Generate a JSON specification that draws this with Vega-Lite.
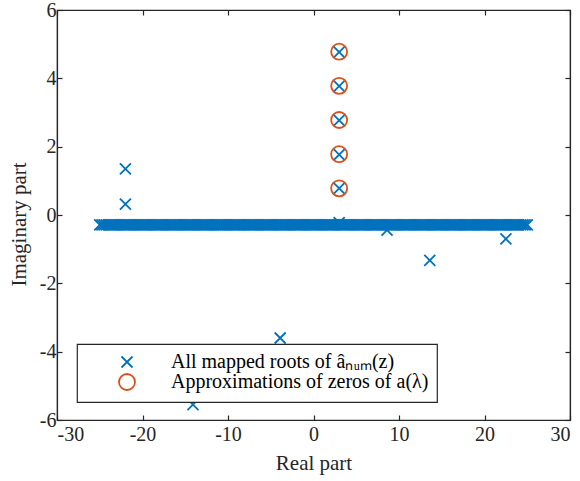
{
  "$schema": "https://vega.github.io/schema/vega-lite/v6.json",
  "width": 513,
  "height": 410,
  "autosize": {"type": "none"},
  "padding": {"left": 57, "top": 10, "right": 10, "bottom": 61},
  "background": "white",
  "config": {
    "font": "Liberation Serif",
    "view": {"stroke": "#262626", "strokeWidth": 1.2},
    "style": {
      "guide-label": {"font": "Liberation Serif", "fontSize": 20, "fill": "#262626"},
      "guide-title": {"font": "Liberation Serif", "fontSize": 21, "fill": "#262626", "fontWeight": "normal"}
    },
    "axis": {
      "grid": false,
      "domainColor": "#262626",
      "domainWidth": 1.2,
      "tickColor": "#262626",
      "tickWidth": 1.2,
      "tickSize": -5,
      "labelColor": "#262626",
      "titleColor": "#262626",
      "labelFont": "Liberation Serif",
      "titleFont": "Liberation Serif",
      "labelFontSize": 20,
      "titleFontSize": 21,
      "titleFontWeight": "normal",
      "labelPadding": 6
    },
    "legend": {
      "orient": "none",
      "legendX": 20,
      "legendY": 334,
      "strokeColor": "#262626",
      "strokeWidth": 1.2,
      "fillColor": "white",
      "padding": 8,
      "cornerRadius": 0,
      "labelFont": "Liberation Serif",
      "labelFontSize": 20,
      "labelColor": "#000000",
      "symbolStrokeWidth": 1.8,
      "symbolOffset": 32,
      "labelOffset": 34,
      "rowPadding": -2,
      "labelLimit": 400
    }
  },
  "data": {
    "values": [
      {"x":-25,"y":-0.29,"s":"roots"},{"x":-24.75,"y":-0.29,"s":"roots"},{"x":-24.5,"y":-0.29,"s":"roots"},{"x":-24.25,"y":-0.29,"s":"roots"},
      {"x":-24,"y":-0.29,"s":"roots"},{"x":-23.75,"y":-0.29,"s":"roots"},{"x":-23.5,"y":-0.29,"s":"roots"},{"x":-23.25,"y":-0.29,"s":"roots"},
      {"x":-23,"y":-0.29,"s":"roots"},{"x":-22.75,"y":-0.29,"s":"roots"},{"x":-22.5,"y":-0.29,"s":"roots"},{"x":-22.25,"y":-0.29,"s":"roots"},
      {"x":-22,"y":-0.29,"s":"roots"},{"x":-21.75,"y":-0.29,"s":"roots"},{"x":-21.5,"y":-0.29,"s":"roots"},{"x":-21.25,"y":-0.29,"s":"roots"},
      {"x":-21,"y":-0.29,"s":"roots"},{"x":-20.75,"y":-0.29,"s":"roots"},{"x":-20.5,"y":-0.29,"s":"roots"},{"x":-20.25,"y":-0.29,"s":"roots"},
      {"x":-20,"y":-0.29,"s":"roots"},{"x":-19.75,"y":-0.29,"s":"roots"},{"x":-19.5,"y":-0.29,"s":"roots"},{"x":-19.25,"y":-0.29,"s":"roots"},
      {"x":-19,"y":-0.29,"s":"roots"},{"x":-18.75,"y":-0.29,"s":"roots"},{"x":-18.5,"y":-0.29,"s":"roots"},{"x":-18.25,"y":-0.29,"s":"roots"},
      {"x":-18,"y":-0.29,"s":"roots"},{"x":-17.75,"y":-0.29,"s":"roots"},{"x":-17.5,"y":-0.29,"s":"roots"},{"x":-17.25,"y":-0.29,"s":"roots"},
      {"x":-17,"y":-0.29,"s":"roots"},{"x":-16.75,"y":-0.29,"s":"roots"},{"x":-16.5,"y":-0.29,"s":"roots"},{"x":-16.25,"y":-0.29,"s":"roots"},
      {"x":-16,"y":-0.29,"s":"roots"},{"x":-15.75,"y":-0.29,"s":"roots"},{"x":-15.5,"y":-0.29,"s":"roots"},{"x":-15.25,"y":-0.29,"s":"roots"},
      {"x":-15,"y":-0.29,"s":"roots"},{"x":-14.75,"y":-0.29,"s":"roots"},{"x":-14.5,"y":-0.29,"s":"roots"},{"x":-14.25,"y":-0.29,"s":"roots"},
      {"x":-14,"y":-0.29,"s":"roots"},{"x":-13.75,"y":-0.29,"s":"roots"},{"x":-13.5,"y":-0.29,"s":"roots"},{"x":-13.25,"y":-0.29,"s":"roots"},
      {"x":-13,"y":-0.29,"s":"roots"},{"x":-12.75,"y":-0.29,"s":"roots"},{"x":-12.5,"y":-0.29,"s":"roots"},{"x":-12.25,"y":-0.29,"s":"roots"},
      {"x":-12,"y":-0.29,"s":"roots"},{"x":-11.75,"y":-0.29,"s":"roots"},{"x":-11.5,"y":-0.29,"s":"roots"},{"x":-11.25,"y":-0.29,"s":"roots"},
      {"x":-11,"y":-0.29,"s":"roots"},{"x":-10.75,"y":-0.29,"s":"roots"},{"x":-10.5,"y":-0.29,"s":"roots"},{"x":-10.25,"y":-0.29,"s":"roots"},
      {"x":-10,"y":-0.29,"s":"roots"},{"x":-9.75,"y":-0.29,"s":"roots"},{"x":-9.5,"y":-0.29,"s":"roots"},{"x":-9.25,"y":-0.29,"s":"roots"},
      {"x":-9,"y":-0.29,"s":"roots"},{"x":-8.75,"y":-0.29,"s":"roots"},{"x":-8.5,"y":-0.29,"s":"roots"},{"x":-8.25,"y":-0.29,"s":"roots"},
      {"x":-8,"y":-0.29,"s":"roots"},{"x":-7.75,"y":-0.29,"s":"roots"},{"x":-7.5,"y":-0.29,"s":"roots"},{"x":-7.25,"y":-0.29,"s":"roots"},
      {"x":-7,"y":-0.29,"s":"roots"},{"x":-6.75,"y":-0.29,"s":"roots"},{"x":-6.5,"y":-0.29,"s":"roots"},{"x":-6.25,"y":-0.29,"s":"roots"},
      {"x":-6,"y":-0.29,"s":"roots"},{"x":-5.75,"y":-0.29,"s":"roots"},{"x":-5.5,"y":-0.29,"s":"roots"},{"x":-5.25,"y":-0.29,"s":"roots"},
      {"x":-5,"y":-0.29,"s":"roots"},{"x":-4.75,"y":-0.29,"s":"roots"},{"x":-4.5,"y":-0.29,"s":"roots"},{"x":-4.25,"y":-0.29,"s":"roots"},
      {"x":-4,"y":-0.29,"s":"roots"},{"x":-3.75,"y":-0.29,"s":"roots"},{"x":-3.5,"y":-0.29,"s":"roots"},{"x":-3.25,"y":-0.29,"s":"roots"},
      {"x":-3,"y":-0.29,"s":"roots"},{"x":-2.75,"y":-0.29,"s":"roots"},{"x":-2.5,"y":-0.29,"s":"roots"},{"x":-2.25,"y":-0.29,"s":"roots"},
      {"x":-2,"y":-0.29,"s":"roots"},{"x":-1.75,"y":-0.29,"s":"roots"},{"x":-1.5,"y":-0.29,"s":"roots"},{"x":-1.25,"y":-0.29,"s":"roots"},
      {"x":-1,"y":-0.29,"s":"roots"},{"x":-0.75,"y":-0.29,"s":"roots"},{"x":-0.5,"y":-0.29,"s":"roots"},{"x":-0.25,"y":-0.29,"s":"roots"},
      {"x":0,"y":-0.29,"s":"roots"},{"x":0.25,"y":-0.29,"s":"roots"},{"x":0.5,"y":-0.29,"s":"roots"},{"x":0.75,"y":-0.29,"s":"roots"},
      {"x":1,"y":-0.29,"s":"roots"},{"x":1.25,"y":-0.29,"s":"roots"},{"x":1.5,"y":-0.29,"s":"roots"},{"x":1.75,"y":-0.29,"s":"roots"},
      {"x":2,"y":-0.29,"s":"roots"},{"x":2.25,"y":-0.29,"s":"roots"},{"x":2.5,"y":-0.29,"s":"roots"},{"x":2.75,"y":-0.29,"s":"roots"},
      {"x":3,"y":-0.29,"s":"roots"},{"x":3.25,"y":-0.29,"s":"roots"},{"x":3.5,"y":-0.29,"s":"roots"},{"x":3.75,"y":-0.29,"s":"roots"},
      {"x":4,"y":-0.29,"s":"roots"},{"x":4.25,"y":-0.29,"s":"roots"},{"x":4.5,"y":-0.29,"s":"roots"},{"x":4.75,"y":-0.29,"s":"roots"},
      {"x":5,"y":-0.29,"s":"roots"},{"x":5.25,"y":-0.29,"s":"roots"},{"x":5.5,"y":-0.29,"s":"roots"},{"x":5.75,"y":-0.29,"s":"roots"},
      {"x":6,"y":-0.29,"s":"roots"},{"x":6.25,"y":-0.29,"s":"roots"},{"x":6.5,"y":-0.29,"s":"roots"},{"x":6.75,"y":-0.29,"s":"roots"},
      {"x":7,"y":-0.29,"s":"roots"},{"x":7.25,"y":-0.29,"s":"roots"},{"x":7.5,"y":-0.29,"s":"roots"},{"x":7.75,"y":-0.29,"s":"roots"},
      {"x":8,"y":-0.29,"s":"roots"},{"x":8.25,"y":-0.29,"s":"roots"},{"x":8.5,"y":-0.29,"s":"roots"},{"x":8.75,"y":-0.29,"s":"roots"},
      {"x":9,"y":-0.29,"s":"roots"},{"x":9.25,"y":-0.29,"s":"roots"},{"x":9.5,"y":-0.29,"s":"roots"},{"x":9.75,"y":-0.29,"s":"roots"},
      {"x":10,"y":-0.29,"s":"roots"},{"x":10.25,"y":-0.29,"s":"roots"},{"x":10.5,"y":-0.29,"s":"roots"},{"x":10.75,"y":-0.29,"s":"roots"},
      {"x":11,"y":-0.29,"s":"roots"},{"x":11.25,"y":-0.29,"s":"roots"},{"x":11.5,"y":-0.29,"s":"roots"},{"x":11.75,"y":-0.29,"s":"roots"},
      {"x":12,"y":-0.29,"s":"roots"},{"x":12.25,"y":-0.29,"s":"roots"},{"x":12.5,"y":-0.29,"s":"roots"},{"x":12.75,"y":-0.29,"s":"roots"},
      {"x":13,"y":-0.29,"s":"roots"},{"x":13.25,"y":-0.29,"s":"roots"},{"x":13.5,"y":-0.29,"s":"roots"},{"x":13.75,"y":-0.29,"s":"roots"},
      {"x":14,"y":-0.29,"s":"roots"},{"x":14.25,"y":-0.29,"s":"roots"},{"x":14.5,"y":-0.29,"s":"roots"},{"x":14.75,"y":-0.29,"s":"roots"},
      {"x":15,"y":-0.29,"s":"roots"},{"x":15.25,"y":-0.29,"s":"roots"},{"x":15.5,"y":-0.29,"s":"roots"},{"x":15.75,"y":-0.29,"s":"roots"},
      {"x":16,"y":-0.29,"s":"roots"},{"x":16.25,"y":-0.29,"s":"roots"},{"x":16.5,"y":-0.29,"s":"roots"},{"x":16.75,"y":-0.29,"s":"roots"},
      {"x":17,"y":-0.29,"s":"roots"},{"x":17.25,"y":-0.29,"s":"roots"},{"x":17.5,"y":-0.29,"s":"roots"},{"x":17.75,"y":-0.29,"s":"roots"},
      {"x":18,"y":-0.29,"s":"roots"},{"x":18.25,"y":-0.29,"s":"roots"},{"x":18.5,"y":-0.29,"s":"roots"},{"x":18.75,"y":-0.29,"s":"roots"},
      {"x":19,"y":-0.29,"s":"roots"},{"x":19.25,"y":-0.29,"s":"roots"},{"x":19.5,"y":-0.29,"s":"roots"},{"x":19.75,"y":-0.29,"s":"roots"},
      {"x":20,"y":-0.29,"s":"roots"},{"x":20.25,"y":-0.29,"s":"roots"},{"x":20.5,"y":-0.29,"s":"roots"},{"x":20.75,"y":-0.29,"s":"roots"},
      {"x":21,"y":-0.29,"s":"roots"},{"x":21.25,"y":-0.29,"s":"roots"},{"x":21.5,"y":-0.29,"s":"roots"},{"x":21.75,"y":-0.29,"s":"roots"},
      {"x":22,"y":-0.29,"s":"roots"},{"x":22.25,"y":-0.29,"s":"roots"},{"x":22.5,"y":-0.29,"s":"roots"},{"x":22.75,"y":-0.29,"s":"roots"},
      {"x":23,"y":-0.29,"s":"roots"},{"x":23.25,"y":-0.29,"s":"roots"},{"x":23.5,"y":-0.29,"s":"roots"},{"x":23.75,"y":-0.29,"s":"roots"},
      {"x":24,"y":-0.29,"s":"roots"},{"x":24.25,"y":-0.29,"s":"roots"},{"x":24.5,"y":-0.29,"s":"roots"},{"x":24.75,"y":-0.29,"s":"roots"},
      {"x":25,"y":-0.29,"s":"roots"},
      {"x":-22,"y":1.35,"s":"roots"},{"x":-22,"y":0.32,"s":"roots"},
      {"x":3,"y":4.77,"s":"roots"},{"x":3,"y":3.77,"s":"roots"},{"x":3,"y":2.77,"s":"roots"},{"x":3,"y":1.77,"s":"roots"},{"x":3,"y":0.78,"s":"roots"},
      {"x":3,"y":-0.22,"s":"roots"},{"x":8.6,"y":-0.44,"s":"roots"},{"x":13.6,"y":-1.33,"s":"roots"},{"x":22.5,"y":-0.7,"s":"roots"},
      {"x":-3.9,"y":-3.6,"s":"roots"},{"x":-14.1,"y":-5.55,"s":"roots"},
      {"x":3,"y":4.78,"s":"zeros"},{"x":3,"y":3.78,"s":"zeros"},{"x":3,"y":2.78,"s":"zeros"},{"x":3,"y":1.78,"s":"zeros"},{"x":3,"y":0.78,"s":"zeros"}
    ]
  },
  "layer": [
    {
      "mark": {"type": "point", "filled": false, "strokeWidth": 1.8, "opacity": 1},
      "encoding": {
        "x": {
          "field": "x", "type": "quantitative",
          "scale": {"domain": [-30, 30], "nice": false, "zero": false},
          "axis": {"title": "Real part", "values": [-30, -20, -10, 0, 10, 20, 30], "labelExpr": "'' + datum.value", "titlePadding": 8, "labelPadding": 9,
                   "labelFont": "Liberation Serif", "labelFontSize": 20, "titleFont": "Liberation Serif", "titleFontSize": 21}
        },
        "y": {
          "field": "y", "type": "quantitative",
          "scale": {"domain": [-6, 6], "nice": false, "zero": false},
          "axis": {"title": "Imaginary part", "values": [-6, -4, -2, 0, 2, 4, 6], "labelExpr": "'' + datum.value", "titlePadding": 10, "titleY": 214,
                   "labelFont": "Liberation Serif", "labelFontSize": 20, "titleFont": "Liberation Serif", "titleFontSize": 21}
        },
        "color": {
          "field": "s", "type": "nominal",
          "scale": {"domain": ["roots", "zeros"], "range": ["#0072BD", "#D95319"]},
          "legend": {"title": null, "labelExpr": "datum.label == 'roots' ? 'All mapped roots of âₙᵤₘ(z)' : 'Approximations of zeros of a(λ)'"}
        },
        "shape": {
          "field": "s", "type": "nominal",
          "scale": {"domain": ["roots", "zeros"], "range": ["M-1,-1L1,1M-1,1L1,-1", "circle"]},
          "legend": {"title": null, "labelExpr": "datum.label == 'roots' ? 'All mapped roots of âₙᵤₘ(z)' : 'Approximations of zeros of a(λ)'"}
        },
        "size": {
          "field": "s", "type": "nominal",
          "scale": {"domain": ["roots", "zeros"], "range": [121, 256]},
          "legend": {"title": null, "labelExpr": "datum.label == 'roots' ? 'All mapped roots of âₙᵤₘ(z)' : 'Approximations of zeros of a(λ)'"}
        }
      }
    },
    {
      "mark": {"type": "point", "opacity": 0},
      "encoding": {
        "x": {"field": "x", "type": "quantitative", "axis": {"orient": "top", "labels": false, "title": null, "values": [-30, -20, -10, 0, 10, 20, 30]}},
        "y": {"field": "y", "type": "quantitative", "axis": {"orient": "right", "labels": false, "title": null, "values": [-6, -4, -2, 0, 2, 4, 6]}}
      }
    }
  ],
  "resolve": {"axis": {"x": "independent", "y": "independent"}}
}
